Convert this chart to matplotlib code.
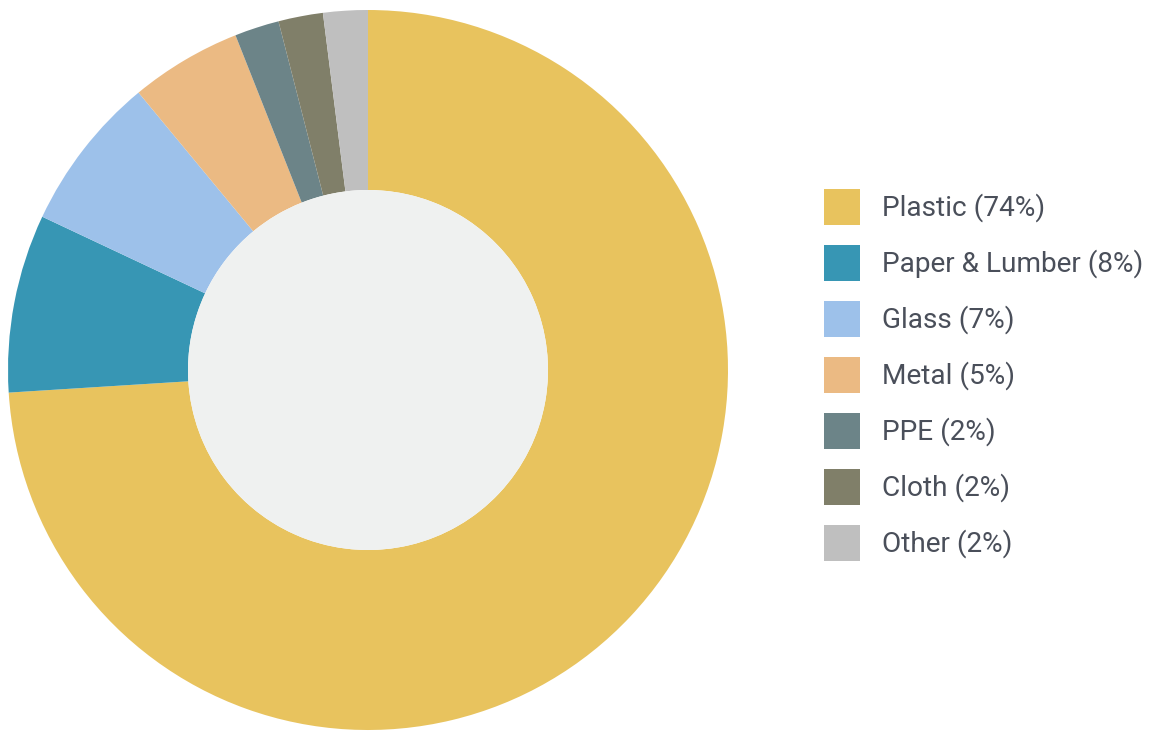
import matplotlib.pyplot as plt
from matplotlib.patches import Circle, Rectangle

# waste composition
materials = ['Plastic', 'Paper & Lumber', 'Glass', 'Metal', 'PPE', 'Cloth', 'Other']
shares = [74, 8, 7, 5, 2, 2, 2]
colors = ['#E8C35E', '#3796B4', '#9DC1EA', '#EBBA83', '#6C8488', '#807F69', '#BFBFBF']

W, H = 1150, 732
fig = plt.figure(figsize=(W / 100, H / 100), dpi=100)
fig.patch.set_facecolor('white')

# donut
ax = fig.add_axes([8 / W, (H - 730) / H, 720 / W, 720 / H])
ax.pie(shares, colors=colors, startangle=90, counterclock=False, radius=1,
       wedgeprops=dict(width=0.5, linewidth=0))
ax.add_patch(Circle((0, 0), 0.5, facecolor='#EFF1F0', edgecolor='none'))
ax.set_xlim(-1, 1)
ax.set_ylim(-1, 1)
ax.set_aspect('equal')
ax.axis('off')

# legend
y0 = 207
step = 56
for i, (m, s, c) in enumerate(zip(materials, shares, colors)):
    yc = y0 + i * step
    fig.patches.append(Rectangle((824 / W, (H - yc - 18) / H), 36 / W, 36 / H,
                                 transform=fig.transFigure, facecolor=c,
                                 edgecolor='none'))
    fig.text(882 / W, (H - yc - 1) / H, f'{m} ({s}%)', fontsize=20.2,
             family='Roboto', color='#4A4F5A', va='center', ha='left')

fig.savefig('out.png', dpi=100)
